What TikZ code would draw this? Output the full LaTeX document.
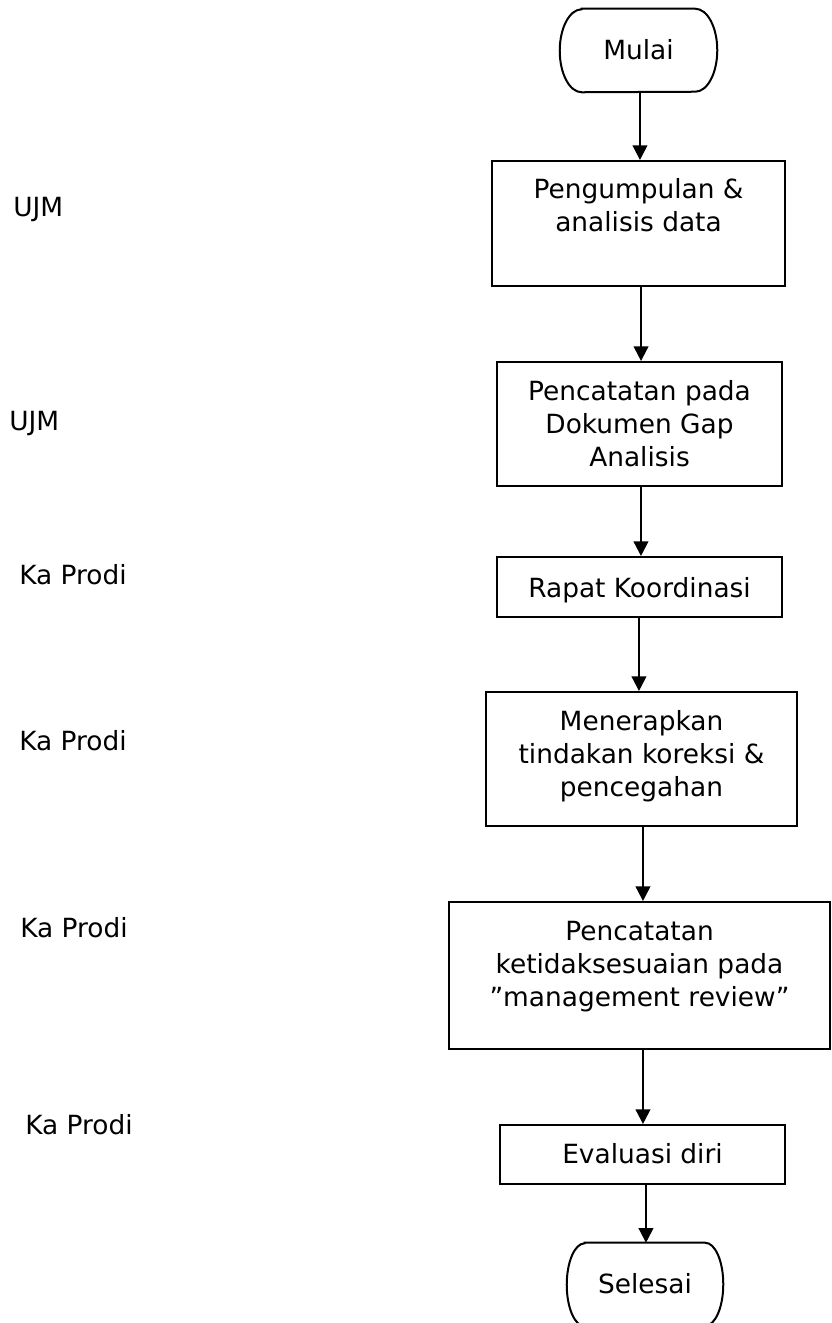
\documentclass[tikz,border=0pt]{standalone}
\usepackage{fontspec}
\setmainfont{DejaVu Sans}
\usetikzlibrary{arrows.meta}
\begin{document}
\begin{tikzpicture}[x=0.75pt,y=-0.75pt,
  box/.style={draw,line width=1.5pt,rectangle,inner sep=0pt},
  termbox/.style={rectangle,inner sep=0pt},
  termline/.style={line width=1.5pt},
  txt/.style={anchor=north,align=center,font=\fontsize{19.8}{24.75}\selectfont,inner sep=0pt},
  lab/.style={anchor=base west,font=\fontsize{19.8}{24.75}\selectfont,inner sep=0pt},
  arr/.style={line width=1.5pt,-{Triangle[width=11pt,length=11pt]}}]
\useasboundingbox (0,0) rectangle (831,1323);
% shapes
\node[termbox,minimum width=117.75pt,minimum height=62.25pt] (m) at (638.5,50.5) {};
\draw[termline] ([xshift=16.5pt]m.north west) -- ([xshift=-16.5pt]m.north east)
  arc[start angle=90,end angle=-90,x radius=16.5pt,y radius=31.125pt]
  -- ([xshift=16.5pt]m.south west)
  arc[start angle=270,end angle=90,x radius=16.5pt,y radius=31.125pt] -- cycle;
\node[box,minimum width=219.75pt,minimum height=93.75pt] (b1) at (638.5,223.5) {};
\node[box,minimum width=213.75pt,minimum height=93pt] (b2) at (639.5,424) {};
\node[box,minimum width=213.75pt,minimum height=45pt] (b3) at (639.5,587) {};
\node[box,minimum width=233.25pt,minimum height=100.5pt] (b4) at (641.5,759) {};
\node[box,minimum width=285.75pt,minimum height=110.25pt] (b5) at (639.5,975.5) {};
\node[box,minimum width=213.75pt,minimum height=44.25pt] (b6) at (642.5,1154.5) {};
\node[termbox,minimum width=117pt,minimum height=62.25pt] (s) at (645,1284.5) {};
\draw[termline] ([xshift=13.5pt]s.north west) -- ([xshift=-13.5pt]s.north east)
  arc[start angle=90,end angle=-90,x radius=13.5pt,y radius=31.125pt]
  -- ([xshift=13.5pt]s.south west)
  arc[start angle=270,end angle=90,x radius=13.5pt,y radius=31.125pt] -- cycle;
% texts
\node[txt] (tm) at (638.5,39) {Mulai};
\node[txt] (t1) at (638.5,178) {Pengumpulan \&\\analisis data};
\node[txt] (t2) at (639.5,380) {Pencatatan pada\\Dokumen Gap\\Analisis};
\node[txt] (t3) at (639.5,577) {Rapat Koordinasi};
\node[txt] (t4) at (641.5,710) {Menerapkan\\tindakan koreksi \&\\pencegahan};
\node[txt] (t5) at (639.5,921) {Pencatatan\\ketidaksesuaian pada\\\char"201Dmanagement review\char"201D};
\node[txt] (t6) at (642.5,1143) {Evaluasi diri};
\node[txt] (ts) at (645,1273) {Selesai};
% left labels
\node[lab] (l1) at (13,217) {UJM};
\node[lab] (l2) at (9,430) {UJM};
\node[lab] (l3) at (19,584) {Ka Prodi};
\node[lab] (l4) at (19,750) {Ka Prodi};
\node[lab] (l5) at (20,937) {Ka Prodi};
\node[lab] (l6) at (25,1134) {Ka Prodi};
% connectors
\draw[arr] ([xshift=1.1pt]m.south) -- ([xshift=1.1pt]m.south |- b1.north);
\draw[arr] ([xshift=1.9pt]b1.south) -- ([xshift=1.9pt]b1.south |- b2.north);
\draw[arr] ([xshift=1.1pt]b2.south) -- ([xshift=1.1pt]b2.south |- b3.north);
\draw[arr] ([xshift=-0.4pt]b3.south) -- ([xshift=-0.4pt]b3.south |- b4.north);
\draw[arr] ([xshift=1.1pt]b4.south) -- ([xshift=1.1pt]b4.south |- b5.north);
\draw[arr] ([xshift=2.6pt]b5.south) -- ([xshift=2.6pt]b5.south |- b6.north);
\draw[arr] ([xshift=2.6pt]b6.south) -- ([xshift=2.6pt]b6.south |- s.north);
\end{tikzpicture}
\end{document}
